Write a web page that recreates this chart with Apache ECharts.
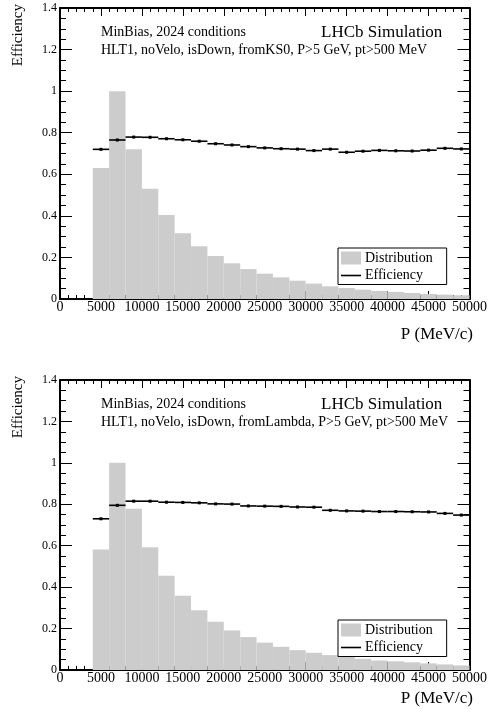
<!DOCTYPE html>
<html>
<head>
<meta charset="utf-8">
<script src="https://cdn.jsdelivr.net/npm/echarts@6/dist/echarts.min.js"></script>
<style>
html,body{margin:0;padding:0;background:#fff;}
#chart{width:490px;height:709px;}
</style>
</head>
<body>
<div id="chart"></div>
<script>
// ---- data ----
const binEdges = [4000, 6000, 8000, 10000, 12000, 14000, 16000, 18000, 20000, 22000, 24000, 26000,
  28000, 30000, 32000, 34000, 36000, 38000, 40000, 42000, 44000, 46000, 48000, 50000];

const distKS0 = [0.63, 1.00, 0.72, 0.53, 0.404, 0.316, 0.254, 0.207, 0.172, 0.144, 0.122, 0.104,
  0.088, 0.074, 0.061, 0.053, 0.045, 0.039, 0.034, 0.029, 0.024, 0.021, 0.018];
const effKS0 = [0.720, 0.765, 0.779, 0.778, 0.771, 0.766, 0.759, 0.747, 0.741, 0.733, 0.727, 0.723,
  0.721, 0.714, 0.721, 0.706, 0.711, 0.715, 0.713, 0.712, 0.716, 0.725, 0.722];

const distLambda = [0.582, 1.00, 0.778, 0.593, 0.455, 0.358, 0.289, 0.233, 0.191, 0.159, 0.132, 0.112,
  0.096, 0.083, 0.072, 0.063, 0.054, 0.046, 0.042, 0.037, 0.032, 0.027, 0.022];
const effLambda = [0.730, 0.795, 0.815, 0.815, 0.810, 0.809, 0.807, 0.802, 0.801, 0.792, 0.791, 0.790,
  0.787, 0.786, 0.771, 0.768, 0.767, 0.765, 0.765, 0.764, 0.763, 0.756, 0.748];

const panelLabels1 = ["MinBias, 2024 conditions", "MinBias, 2024 conditions"];
const panelLabels2 = ["HLT1, noVelo, isDown, fromKS0, P>5 GeV, pt>500 MeV",
                      "HLT1, noVelo, isDown, fromLambda, P>5 GeV, pt>500 MeV"];
const experimentLabel = "LHCb Simulation";
const xTitle = "P (MeV/c)";
const yTitle = "Efficiency";
const legendNames = ["Distribution", "Efficiency"];

// ---- build ----
const FONT = '"Liberation Serif", "DejaVu Serif", serif';
const panels = [
  {top: 8, height: 291, dist: distKS0, eff: effKS0, xTitleY: 335},
  {top: 380, height: 290, dist: distLambda, eff: effLambda, xTitleY: 699}
];

function binData(vals) {
  return vals.map((v, i) => [binEdges[i], binEdges[i + 1], v]);
}

const grids = [], xAxes = [], yAxes = [], series = [], legends = [], graphics = [];
panels.forEach((p, k) => {
  grids.push({left: 60, right: 17, top: p.top, height: p.height});
  const xBase = {
    type: 'value', gridIndex: k, min: 0, max: 50000, interval: 5000,
    axisLine: {show: true, onZero: false, lineStyle: {color: '#000', width: 2}},
    axisTick: {show: true, inside: true, length: 8, lineStyle: {color: '#000', width: 1}},
    minorTick: {show: true, splitNumber: 5, length: 4, lineStyle: {color: '#000', width: 1}},
    splitLine: {show: false}
  };
  xAxes.push(Object.assign({}, xBase, {
    position: 'bottom',
    axisLabel: {show: true, color: '#000', fontFamily: FONT, fontSize: 14, margin: 1,
      formatter: v => String(v), showMinLabel: true, showMaxLabel: true}
  }));
  xAxes.push(Object.assign({}, xBase, {position: 'top', axisLabel: {show: false}}));
  const yBase = {
    type: 'value', gridIndex: k, min: 0, max: 1.4, interval: 0.2,
    axisLine: {show: true, onZero: false, lineStyle: {color: '#000', width: 2}},
    axisTick: {show: true, inside: true, length: 12, lineStyle: {color: '#000', width: 1}},
    minorTick: {show: true, splitNumber: 4, length: 6, lineStyle: {color: '#000', width: 1}},
    splitLine: {show: false}
  };
  yAxes.push(Object.assign({}, yBase, {
    position: 'left',
    axisLabel: {show: true, color: '#000', fontFamily: FONT, fontSize: 12, margin: 3,
      showMinLabel: true, showMaxLabel: true}
  }));
  yAxes.push(Object.assign({}, yBase, {position: 'right', axisLabel: {show: false}}));

  series.push({
    name: legendNames[0], type: 'custom', xAxisIndex: 2 * k, yAxisIndex: 2 * k,
    data: binData(p.dist), encode: {x: [0, 1], y: 2},
    itemStyle: {color: '#cccccc'}, z: 1, silent: true,
    renderItem: function (params, api) {
      const a = api.coord([api.value(0), 0]);
      const b = api.coord([api.value(1), api.value(2)]);
      return {type: 'rect', shape: {x: a[0], y: b[1], width: b[0] - a[0], height: a[1] - b[1]},
        style: {fill: '#cccccc'}};
    }
  });
  series.push({
    name: legendNames[1], type: 'custom', xAxisIndex: 2 * k, yAxisIndex: 2 * k,
    data: binData(p.eff), encode: {x: [0, 1], y: 2},
    itemStyle: {color: '#000'}, z: 3, silent: true,
    renderItem: function (params, api) {
      const a = api.coord([api.value(0), api.value(2)]);
      const b = api.coord([api.value(1), api.value(2)]);
      const cx = (a[0] + b[0]) / 2;
      return {type: 'group', children: [
        {type: 'line', shape: {x1: a[0], y1: a[1], x2: b[0], y2: b[1]},
          style: {stroke: '#000', lineWidth: 1.6}},
        {type: 'rect', shape: {x: cx - 1.5, y: a[1] - 1.5, width: 3, height: 3},
          style: {fill: '#000'}}
      ]};
    }
  });

  legends.push({
    left: 338, top: p.top + 240, orient: 'vertical', selectedMode: false,
    backgroundColor: '#fff', borderColor: '#000', borderWidth: 1, borderRadius: 0,
    padding: [3, 14, 2, 3], itemGap: 3.5, itemWidth: 20, itemHeight: 13,
    textStyle: {fontFamily: FONT, fontSize: 14, color: '#000', padding: [0, 0, 0, -1]},
    data: [
      {name: legendNames[0], icon: 'rect', itemStyle: {color: '#cccccc'}},
      {name: legendNames[1], icon: 'path://M0,0H20V1.6H0Z', itemStyle: {color: '#000'}}
    ],
    z: 10
  });

  graphics.push({type: 'text', x: 101, y: p.top + 24,
    style: {text: panelLabels1[k], font: '14px ' + FONT, fill: '#000', align: 'left', verticalAlign: 'middle'}});
  graphics.push({type: 'text', x: 101, y: p.top + 42,
    style: {text: panelLabels2[k], font: '14px ' + FONT, fill: '#000', align: 'left', verticalAlign: 'middle'}});
  graphics.push({type: 'text', x: 321, y: p.top + 24.5,
    style: {text: experimentLabel, font: '17px ' + FONT, fill: '#000', align: 'left', verticalAlign: 'middle'}});
  graphics.push({type: 'text', x: 473, y: p.xTitleY,
    style: {text: xTitle, font: '17px ' + FONT, fill: '#000', align: 'right', verticalAlign: 'middle'}});
  graphics.push({type: 'text', x: 18, y: p.top - 4, rotation: Math.PI / 2,
    style: {text: yTitle, font: '15px ' + FONT, fill: '#000', align: 'right', verticalAlign: 'middle'}});
});

const chart = echarts.init(document.getElementById('chart'), null, {renderer: 'canvas'});
chart.setOption({
  animation: false,
  backgroundColor: '#fff',
  grid: grids,
  xAxis: xAxes,
  yAxis: yAxes,
  legend: legends,
  series: series,
  graphic: graphics
});
</script>
</body>
</html>
